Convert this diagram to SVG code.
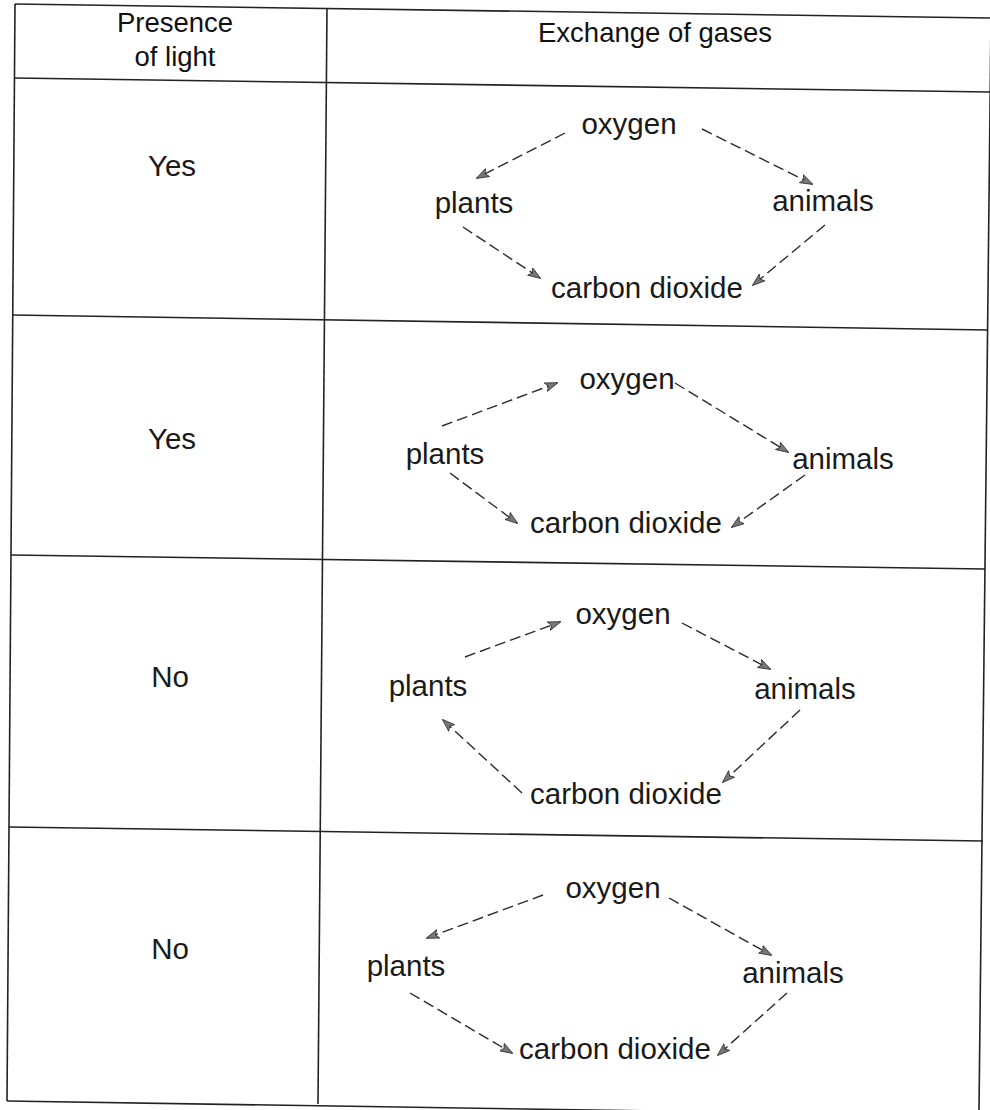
<svg xmlns="http://www.w3.org/2000/svg" width="990" height="1110" viewBox="0 0 990 1110">
<style>
.t{font-family:"Liberation Sans",Arial,sans-serif;font-size:29.5px;fill:#1a1a1a;text-anchor:middle}
.h{font-family:"Liberation Sans",Arial,sans-serif;font-size:27.5px;fill:#111;text-anchor:middle}
.grid line{stroke:#222;stroke-width:1.6}
.c{stroke:#2a2a2a;stroke-width:1.4;stroke-dasharray:11 5;fill:none}
</style>
<defs>
<marker id="ah" viewBox="0 0 13 10" refX="12" refY="5" markerWidth="13" markerHeight="10" markerUnits="userSpaceOnUse" orient="auto">
<path d="M0,0.5 L13,5 L0,9.5 L3,5 Z" fill="#777" stroke="#333" stroke-width="0.8"/>
</marker>
</defs>
<rect width="990" height="1110" fill="#fff"/>
<g id="table" class="grid">
<line x1="15" y1="4" x2="991" y2="18"/>
<line x1="14" y1="78" x2="990" y2="92"/>
<line x1="12" y1="315" x2="988" y2="330"/>
<line x1="11" y1="555" x2="985" y2="569"/>
<line x1="9" y1="827" x2="983" y2="841"/>
<line x1="7" y1="1101" x2="980" y2="1116"/>
<line x1="15" y1="4" x2="7" y2="1101"/>
<line x1="327" y1="8" x2="318" y2="1104"/>
<line x1="991" y1="18" x2="979" y2="1110"/>
</g>
<g id="header">
<text class="h" x="175" y="32">Presence</text>
<text class="h" x="175" y="66">of light</text>
<text class="h" x="655" y="42">Exchange of gases</text>
</g>
<g id="light">
<text class="t" x="172" y="176">Yes</text>
<text class="t" x="172" y="449">Yes</text>
<text class="t" x="170" y="687">No</text>
<text class="t" x="170" y="959">No</text>
</g>
<g id="row1">
<text class="t" x="629" y="134">oxygen</text>
<text class="t" x="474" y="213">plants</text>
<text class="t" x="823" y="211">animals</text>
<text class="t" x="647" y="298">carbon dioxide</text>
</g>
<g id="row2">
<text class="t" x="627" y="389">oxygen</text>
<text class="t" x="445" y="464">plants</text>
<text class="t" x="843" y="469">animals</text>
<text class="t" x="626" y="533">carbon dioxide</text>
</g>
<g id="row3">
<text class="t" x="623" y="624">oxygen</text>
<text class="t" x="428" y="696">plants</text>
<text class="t" x="805" y="699">animals</text>
<text class="t" x="626" y="804">carbon dioxide</text>
</g>
<g id="row4">
<text class="t" x="613" y="898">oxygen</text>
<text class="t" x="406" y="976">plants</text>
<text class="t" x="793" y="983">animals</text>
<text class="t" x="615" y="1059">carbon dioxide</text>
</g>
<g id="connectors">
<line class="c" x1="565" y1="133" x2="477" y2="178" marker-end="url(#ah)"/>
<line class="c" x1="702" y1="129" x2="812" y2="184" marker-end="url(#ah)"/>
<line class="c" x1="463" y1="227" x2="540" y2="278" marker-end="url(#ah)"/>
<line class="c" x1="825" y1="225" x2="753" y2="285" marker-end="url(#ah)"/>
<line class="c" x1="442" y1="426" x2="557" y2="383" marker-end="url(#ah)"/>
<line class="c" x1="675" y1="383" x2="788" y2="452" marker-end="url(#ah)"/>
<line class="c" x1="450" y1="473" x2="517" y2="523" marker-end="url(#ah)"/>
<line class="c" x1="805" y1="475" x2="732" y2="527" marker-end="url(#ah)"/>
<line class="c" x1="465" y1="657" x2="560" y2="622" marker-end="url(#ah)"/>
<line class="c" x1="682" y1="623" x2="770" y2="669" marker-end="url(#ah)"/>
<line class="c" x1="800" y1="710" x2="723" y2="782" marker-end="url(#ah)"/>
<line class="c" x1="522" y1="793" x2="443" y2="720" marker-end="url(#ah)"/>
<line class="c" x1="543" y1="895" x2="427" y2="938" marker-end="url(#ah)"/>
<line class="c" x1="669" y1="898" x2="771" y2="955" marker-end="url(#ah)"/>
<line class="c" x1="410" y1="993" x2="512" y2="1053" marker-end="url(#ah)"/>
<line class="c" x1="787" y1="993" x2="718" y2="1055" marker-end="url(#ah)"/>
</g>
</svg>
